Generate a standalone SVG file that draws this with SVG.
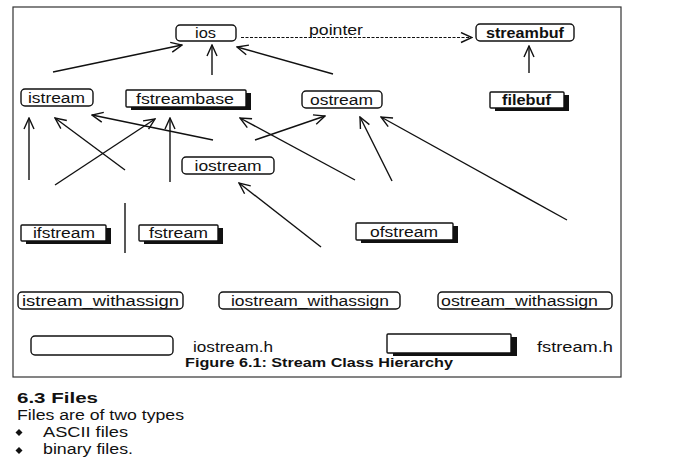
<svg xmlns="http://www.w3.org/2000/svg" width="674" height="466" viewBox="0 0 674 466">
<defs>
<style>
.t{font-family:"Liberation Sans",Arial,sans-serif;font-size:14px;fill:#111}
.b{font-weight:bold}
.rb{fill:#fff;stroke:#111;stroke-width:1.4}
.sh{fill:#111}
.ln{stroke:#111;stroke-width:1.4;fill:none}
.frame{fill:none;stroke:#333;stroke-width:1.2}
</style>
<marker id="arr" viewBox="-12 -6 13 12" refX="0" refY="0" markerWidth="13" markerHeight="12" markerUnits="userSpaceOnUse" orient="auto">
<path d="M-11,-5 L0,0 L-11,5" fill="none" stroke="#111" stroke-width="1.4"/>
</marker>
</defs>
<rect width="674" height="466" fill="#fff"/>
<rect class="frame" x="13" y="7" width="608" height="370"/>

<g id="connectors">
<line class="ln" x1="53" y1="72" x2="182" y2="45" marker-end="url(#arr)"/>
<line class="ln" x1="212" y1="75" x2="212" y2="45" marker-end="url(#arr)"/>
<line class="ln" x1="333" y1="74" x2="237" y2="47" marker-end="url(#arr)"/>
<line class="ln" x1="529" y1="73" x2="529" y2="46" marker-end="url(#arr)"/>
<line x1="241" y1="37.5" x2="472" y2="37.5" stroke="#111" stroke-width="1" stroke-dasharray="3,1.5" marker-end="url(#arr)"/>
<line class="ln" x1="29" y1="180" x2="29" y2="118" marker-end="url(#arr)"/>
<line class="ln" x1="125" y1="170" x2="55" y2="118" marker-end="url(#arr)"/>
<line class="ln" x1="55" y1="185" x2="155" y2="119" marker-end="url(#arr)"/>
<line class="ln" x1="170" y1="182" x2="170" y2="118" marker-end="url(#arr)"/>
<line class="ln" x1="213" y1="140" x2="92" y2="115" marker-end="url(#arr)"/>
<line class="ln" x1="255" y1="140" x2="325" y2="116" marker-end="url(#arr)"/>
<line class="ln" x1="355" y1="180" x2="240" y2="118" marker-end="url(#arr)"/>
<line class="ln" x1="392" y1="181" x2="360" y2="117" marker-end="url(#arr)"/>
<line class="ln" x1="567" y1="220" x2="381" y2="117" marker-end="url(#arr)"/>
<line class="ln" x1="321" y1="247" x2="239" y2="183" marker-end="url(#arr)"/>
<line class="ln" x1="125" y1="203" x2="125" y2="253"/>
</g>

<g id="ios"><rect class="rb" x="176" y="25" width="60" height="16" rx="4"/><text class="t" x="195" y="38" textLength="21" lengthAdjust="spacingAndGlyphs">ios</text></g>
<text class="t" x="309" y="35" textLength="54" lengthAdjust="spacingAndGlyphs">pointer</text>
<g id="streambuf"><rect class="rb" x="476" y="24" width="98" height="17" rx="4"/><text class="t b" x="486" y="38" textLength="78" lengthAdjust="spacingAndGlyphs">streambuf</text></g>

<g id="istream"><rect class="rb" x="21" y="89" width="72" height="17" rx="4"/><text class="t" x="28" y="103" textLength="57" lengthAdjust="spacingAndGlyphs">istream</text></g>
<g id="fstreambase"><rect class="sh" x="131" y="93" width="120" height="17"/><rect class="rb" x="126" y="90" width="120" height="17" rx="1"/><text class="t" x="136" y="104" textLength="98" lengthAdjust="spacingAndGlyphs">fstreambase</text></g>
<g id="ostream"><rect class="rb" x="302" y="91" width="80" height="17" rx="4"/><text class="t" x="310" y="105" textLength="63" lengthAdjust="spacingAndGlyphs">ostream</text></g>
<g id="filebuf"><rect class="sh" x="495" y="95" width="74" height="16"/><rect class="rb" x="490" y="92" width="74" height="16" rx="1"/><text class="t b" x="502" y="105" textLength="49" lengthAdjust="spacingAndGlyphs">filebuf</text></g>

<g id="iostream"><rect class="rb" x="182" y="157" width="92" height="17" rx="4"/><text class="t" x="194.5" y="171" textLength="67" lengthAdjust="spacingAndGlyphs">iostream</text></g>

<g id="ifstream"><rect class="sh" x="26" y="228" width="85" height="16"/><rect class="rb" x="21" y="225" width="85" height="16" rx="1"/><text class="t" x="33" y="238" textLength="62" lengthAdjust="spacingAndGlyphs">ifstream</text></g>
<g id="fstream"><rect class="sh" x="144" y="228" width="79" height="16"/><rect class="rb" x="139" y="225" width="79" height="16" rx="1"/><text class="t" x="149" y="238" textLength="59" lengthAdjust="spacingAndGlyphs">fstream</text></g>
<g id="ofstream"><rect class="sh" x="361" y="226" width="97" height="17"/><rect class="rb" x="356" y="223" width="97" height="17" rx="1"/><text class="t" x="370" y="237" textLength="68" lengthAdjust="spacingAndGlyphs">ofstream</text></g>

<g id="istream_withassign"><rect class="rb" x="18" y="292" width="165" height="17" rx="4"/><text class="t" x="22" y="306" textLength="157" lengthAdjust="spacingAndGlyphs">istream_withassign</text></g>
<g id="iostream_withassign"><rect class="rb" x="219" y="292" width="181" height="17" rx="4"/><text class="t" x="231" y="306" textLength="158" lengthAdjust="spacingAndGlyphs">iostream_withassign</text></g>
<g id="ostream_withassign"><rect class="rb" x="438" y="292" width="174" height="17" rx="4"/><text class="t" x="441" y="306" textLength="157" lengthAdjust="spacingAndGlyphs">ostream_withassign</text></g>

<g id="legend-iostream"><rect class="rb" x="31" y="336" width="142" height="19" rx="4"/><text class="t" x="193" y="352" textLength="80" lengthAdjust="spacingAndGlyphs">iostream.h</text></g>
<g id="legend-fstream"><rect class="sh" x="393" y="337" width="124" height="19"/><rect class="rb" x="387" y="334" width="124" height="19" rx="1"/><text class="t" x="537" y="352" textLength="76" lengthAdjust="spacingAndGlyphs">fstream.h</text></g>

<text class="t b" x="185" y="367" style="font-size:12px" textLength="268" lengthAdjust="spacingAndGlyphs">Figure 6.1: Stream Class Hierarchy</text>

<text class="t b" x="17" y="403" style="font-size:15px" textLength="81" lengthAdjust="spacingAndGlyphs">6.3  Files</text>
<text class="t" x="17" y="420" textLength="167" lengthAdjust="spacingAndGlyphs">Files are of two types</text>
<path d="M19,429 L22.5,432.5 L19,436 L15.5,432.5 Z" fill="#111"/>
<text class="t" x="43" y="437" textLength="85" lengthAdjust="spacingAndGlyphs">ASCII files</text>
<path d="M19,447 L22.5,450.5 L19,454 L15.5,450.5 Z" fill="#111"/>
<text class="t" x="43" y="454" textLength="90" lengthAdjust="spacingAndGlyphs">binary files.</text>
</svg>
